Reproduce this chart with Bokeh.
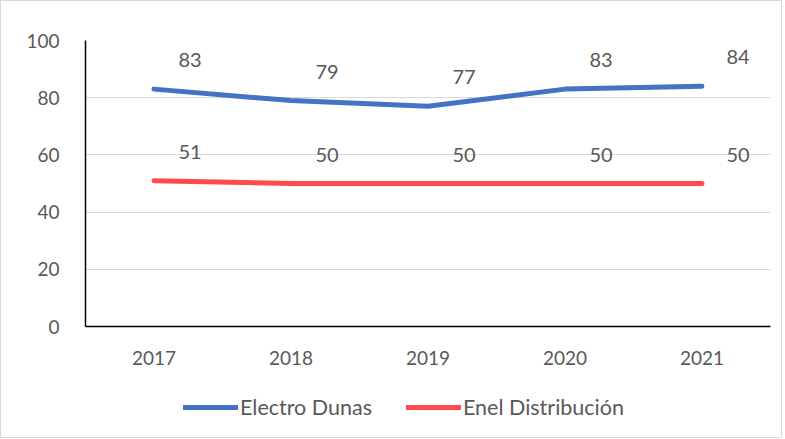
from bokeh.plotting import figure
from bokeh.models import ColumnDataSource, Legend, LegendItem, LabelSet, Range1d
from bokeh.layouts import column
from bokeh.core.properties import value
from bokeh.embed import file_html
from bokeh.resources import INLINE

years = ["2017", "2018", "2019", "2020", "2021"]
electro_dunas = [83, 79, 77, 83, 84]
enel_distribucion = [51, 50, 50, 50, 50]
y_ticks = [0, 20, 40, 60, 80, 100]
series_names = ["Electro Dunas", "Enel Distribución"]

FONT = "Lato"
TXT = "#595959"
BLUE = "#4472C4"
RED = "#FF4B4B"
W = 780

p = figure(x_range=years, y_range=(0, 100), width=W, height=380,
           output_backend="svg", toolbar_location=None,
           min_border_left=84, min_border_top=39, min_border_right=11, min_border_bottom=55)
p.x_range.range_padding = 0
p.outline_line_color = None
p.background_fill_color = "white"
p.border_fill_color = "white"

p.xgrid.grid_line_color = None
p.ygrid.grid_line_color = "#d9d9d9"
p.ygrid.grid_line_width = 1
p.yaxis.ticker = y_ticks

for ax in (p.xaxis, p.yaxis):
    ax.axis_line_color = "black"
    ax.axis_line_width = 1.5
    ax.major_tick_line_color = None
    ax.minor_tick_line_color = None
    ax.major_label_text_font = FONT
    ax.major_label_text_font_size = "19px"
    ax.major_label_text_color = TXT
p.yaxis.major_label_standoff = 20
p.xaxis.major_label_standoff = 18

src1 = ColumnDataSource(dict(x=years, y=electro_dunas, t=[str(v) for v in electro_dunas]))
src2 = ColumnDataSource(dict(x=years, y=enel_distribucion, t=[str(v) for v in enel_distribucion]))

p.line("x", "y", source=src1, line_color=BLUE, line_width=5, line_cap="round", line_join="round")
p.line("x", "y", source=src2, line_color=RED, line_width=5, line_cap="round", line_join="round")

for src in (src1, src2):
    lab = LabelSet(x="x", y="y", text="t", source=src, x_offset=36, y_offset=29,
                   text_align="center", text_baseline="middle",
                   text_font=value(FONT), text_font_size=value("20px"), text_color=TXT)
    p.add_layout(lab)

# legend strip (placeholder renderers carry only the legend styling, no visible data)
p2 = figure(width=W, height=56, output_backend="svg", toolbar_location=None,
            x_axis_type=None, y_axis_type=None, x_range=Range1d(0, 1), y_range=Range1d(0, 1),
            min_border=0)
p2.outline_line_color = None
p2.grid.visible = False
p2.border_fill_color = "white"
nan = float("nan")
lr1 = p2.line(x=[nan], y=[nan], line_color=BLUE, line_width=5, line_cap="round")
lr2 = p2.line(x=[nan], y=[nan], line_color=RED, line_width=5, line_cap="round")

legend = Legend(items=[LegendItem(label=series_names[0], renderers=[lr1]),
                       LegendItem(label=series_names[1], renderers=[lr2])],
                location=(98, 17), orientation="horizontal",
                glyph_width=55, glyph_height=22, label_standoff=2, spacing=34,
                padding=0, margin=0, border_line_color=None, background_fill_alpha=0,
                label_text_font=FONT, label_text_font_size="21.5px", label_text_color=TXT)
p2.add_layout(legend, "center")

layout = column(p, p2, spacing=0, styles={"border": "1px solid #d9d9d9"})

open("out.html", "w").write(file_html(layout, INLINE))
